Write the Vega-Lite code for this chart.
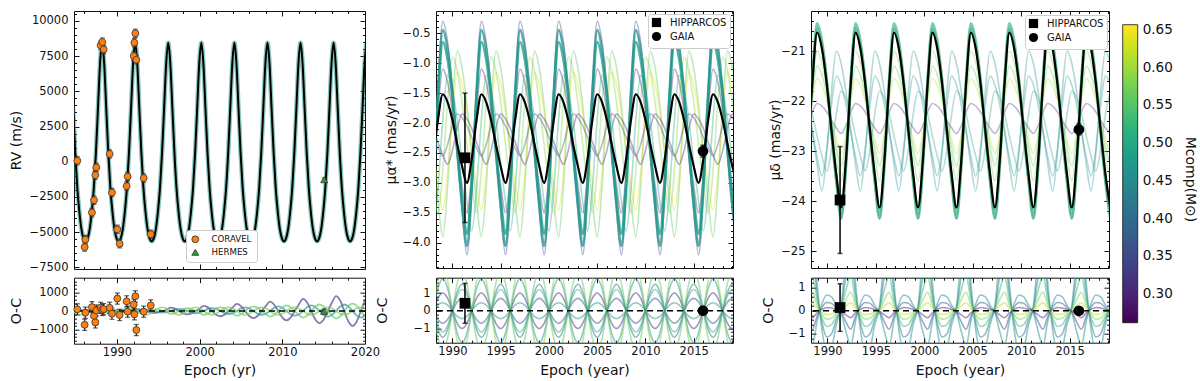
{
"$schema": "https://vega.github.io/schema/vega-lite/v6.json",
"background": "white",
"padding": {"left": 8, "top": 7, "right": 5, "bottom": 2},
"config": {
 "font": "DejaVu Sans",
 "view": {"stroke": "#111", "strokeWidth": 1},
 "axis": {"grid": false, "domain": false, "tickColor": "#111", "tickWidth": 1, "labelColor": "#111", "titleColor": "#111", "labelFontSize": 11.5, "titleFontSize": 14, "titleFontWeight": "normal", "labelFlush": false, "labelOverlap": false, "labelBound": false},
 "legend": {"labelColor": "#111"}
},
"datasets": {
 "zero": [{"z": 0}],
 "rv": [
  {"t":1984.7,"v":3790},{"t":1984.95,"v":632},{"t":1985.2,"v":-1875},{"t":1985.45,"v":-3569},{"t":1985.7,"v":-4783},{"t":1985.95,"v":-5441},{"t":1986.2,"v":-5650},{"t":1986.45,"v":-5441},{"t":1986.7,"v":-4783},{"t":1986.95,"v":-3569},{"t":1987.2,"v":-1875},{"t":1987.45,"v":632},{"t":1987.7,"v":3790},{"t":1987.95,"v":6984},{"t":1988.2,"v":8450},{"t":1988.45,"v":6984},
  {"t":1988.7,"v":3790},{"t":1988.95,"v":632},{"t":1989.2,"v":-1875},{"t":1989.45,"v":-3569},{"t":1989.7,"v":-4783},{"t":1989.95,"v":-5441},{"t":1990.2,"v":-5650},{"t":1990.45,"v":-5441},{"t":1990.7,"v":-4783},{"t":1990.95,"v":-3569},{"t":1991.2,"v":-1875},{"t":1991.45,"v":632},{"t":1991.7,"v":3790},{"t":1991.95,"v":6984},{"t":1992.2,"v":8450},{"t":1992.45,"v":6984},
  {"t":1992.7,"v":3790},{"t":1992.95,"v":632},{"t":1993.2,"v":-1875},{"t":1993.45,"v":-3569},{"t":1993.7,"v":-4783},{"t":1993.95,"v":-5441},{"t":1994.2,"v":-5650},{"t":1994.45,"v":-5441},{"t":1994.7,"v":-4783},{"t":1994.95,"v":-3569},{"t":1995.2,"v":-1875},{"t":1995.45,"v":632},{"t":1995.7,"v":3790},{"t":1995.95,"v":6984},{"t":1996.2,"v":8450},{"t":1996.45,"v":6984},
  {"t":1996.7,"v":3790},{"t":1996.95,"v":632},{"t":1997.2,"v":-1875},{"t":1997.45,"v":-3569},{"t":1997.7,"v":-4783},{"t":1997.95,"v":-5441},{"t":1998.2,"v":-5650},{"t":1998.45,"v":-5441},{"t":1998.7,"v":-4783},{"t":1998.95,"v":-3569},{"t":1999.2,"v":-1875},{"t":1999.45,"v":632},{"t":1999.7,"v":3790},{"t":1999.95,"v":6984},{"t":2000.2,"v":8450},{"t":2000.45,"v":6984},
  {"t":2000.7,"v":3790},{"t":2000.95,"v":632},{"t":2001.2,"v":-1875},{"t":2001.45,"v":-3569},{"t":2001.7,"v":-4783},{"t":2001.95,"v":-5441},{"t":2002.2,"v":-5650},{"t":2002.45,"v":-5441},{"t":2002.7,"v":-4783},{"t":2002.95,"v":-3569},{"t":2003.2,"v":-1875},{"t":2003.45,"v":632},{"t":2003.7,"v":3790},{"t":2003.95,"v":6984},{"t":2004.2,"v":8450},{"t":2004.45,"v":6984},
  {"t":2004.7,"v":3790},{"t":2004.95,"v":632},{"t":2005.2,"v":-1875},{"t":2005.45,"v":-3569},{"t":2005.7,"v":-4783},{"t":2005.95,"v":-5441},{"t":2006.2,"v":-5650},{"t":2006.45,"v":-5441},{"t":2006.7,"v":-4783},{"t":2006.95,"v":-3569},{"t":2007.2,"v":-1875},{"t":2007.45,"v":632},{"t":2007.7,"v":3790},{"t":2007.95,"v":6984},{"t":2008.2,"v":8450},{"t":2008.45,"v":6984},
  {"t":2008.7,"v":3790},{"t":2008.95,"v":632},{"t":2009.2,"v":-1875},{"t":2009.45,"v":-3569},{"t":2009.7,"v":-4783},{"t":2009.95,"v":-5441},{"t":2010.2,"v":-5650},{"t":2010.45,"v":-5441},{"t":2010.7,"v":-4783},{"t":2010.95,"v":-3569},{"t":2011.2,"v":-1875},{"t":2011.45,"v":632},{"t":2011.7,"v":3790},{"t":2011.95,"v":6984},{"t":2012.2,"v":8450},{"t":2012.45,"v":6984},
  {"t":2012.7,"v":3790},{"t":2012.95,"v":632},{"t":2013.2,"v":-1875},{"t":2013.45,"v":-3569},{"t":2013.7,"v":-4783},{"t":2013.95,"v":-5441},{"t":2014.2,"v":-5650},{"t":2014.45,"v":-5441},{"t":2014.7,"v":-4783},{"t":2014.95,"v":-3569},{"t":2015.2,"v":-1875},{"t":2015.45,"v":632},{"t":2015.7,"v":3790},{"t":2015.95,"v":6984},{"t":2016.2,"v":8450},{"t":2016.45,"v":6984},
  {"t":2016.7,"v":3790},{"t":2016.95,"v":632},{"t":2017.2,"v":-1875},{"t":2017.45,"v":-3569},{"t":2017.7,"v":-4783},{"t":2017.95,"v":-5441},{"t":2018.2,"v":-5650},{"t":2018.45,"v":-5441},{"t":2018.7,"v":-4783},{"t":2018.95,"v":-3569},{"t":2019.2,"v":-1875},{"t":2019.45,"v":632},{"t":2019.7,"v":3790},{"t":2019.95,"v":6984},{"t":2020.2,"v":8450},{"t":2020.45,"v":6984}
 ],
 "pts1": [
  {"inst":"CORAVEL","t":1985.2,"v":70,"r":90,"e":300},
  {"inst":"CORAVEL","t":1986.09,"v":-6060,"r":-740,"e":300},
  {"inst":"CORAVEL","t":1986.17,"v":-5530,"r":-90,"e":300},
  {"inst":"CORAVEL","t":1986.97,"v":-3610,"r":210,"e":300},
  {"inst":"CORAVEL","t":1987.22,"v":-2730,"r":-260,"e":300},
  {"inst":"CORAVEL","t":1987.38,"v":-950,"r":-610,"e":300},
  {"inst":"CORAVEL","t":1987.5,"v":-400,"r":30,"e":300},
  {"inst":"CORAVEL","t":1988.02,"v":8270,"r":170,"e":300},
  {"inst":"CORAVEL","t":1988.22,"v":8500,"r":60,"e":300},
  {"inst":"CORAVEL","t":1988.39,"v":7980,"r":100,"e":300},
  {"inst":"CORAVEL","t":1989.11,"v":550,"r":175,"e":300},
  {"inst":"CORAVEL","t":1989.39,"v":-2190,"r":-140,"e":300},
  {"inst":"CORAVEL","t":1990.04,"v":-4800,"r":670,"e":300},
  {"inst":"CORAVEL","t":1990.32,"v":-5820,"r":-210,"e":300},
  {"inst":"CORAVEL","t":1991.17,"v":-1730,"r":520,"e":300},
  {"inst":"CORAVEL","t":1991.29,"v":-1050,"r":-35,"e":300},
  {"inst":"CORAVEL","t":1992.02,"v":7510,"r":350,"e":300},
  {"inst":"CORAVEL","t":1992.1,"v":8460,"r":-175,"e":300},
  {"inst":"CORAVEL","t":1992.22,"v":9120,"r":790,"e":300},
  {"inst":"CORAVEL","t":1992.34,"v":7250,"r":-1020,"e":300},
  {"inst":"CORAVEL","t":1993.23,"v":-1160,"r":-35,"e":300},
  {"inst":"CORAVEL","t":1994.08,"v":-5150,"r":300,"e":300},
  {"inst":"HERMES","t":2015.06,"v":-1280,"r":-20,"e":120}
 ],
 "oc1": [
  {"t":1984.5,"a":30,"b":0,"c":-60,"d":0},{"t":1985,"a":21,"b":35,"c":-42,"d":-140},{"t":1985.5,"a":0,"b":50,"c":0,"d":-200},{"t":1986,"a":-21,"b":35,"c":42,"d":-140},{"t":1986.5,"a":-30,"b":0,"c":60,"d":0},{"t":1987,"a":-21,"b":-35,"c":42,"d":140},{"t":1987.5,"a":0,"b":-50,"c":0,"d":200},{"t":1988,"a":21,"b":-35,"c":-42,"d":140},
  {"t":1988.5,"a":60,"b":0,"c":-80,"d":0},{"t":1989,"a":42,"b":42,"c":-56,"d":-140},{"t":1989.5,"a":0,"b":60,"c":0,"d":-200},{"t":1990,"a":-42,"b":42,"c":56,"d":-140},{"t":1990.5,"a":-60,"b":0,"c":80,"d":0},{"t":1991,"a":-42,"b":-42,"c":56,"d":140},{"t":1991.5,"a":0,"b":-60,"c":0,"d":200},{"t":1992,"a":42,"b":-42,"c":-56,"d":140},
  {"t":1992.5,"a":100,"b":0,"c":-100,"d":0},{"t":1993,"a":70,"b":56,"c":-70,"d":-140},{"t":1993.5,"a":0,"b":80,"c":0,"d":-200},{"t":1994,"a":-70,"b":56,"c":70,"d":-140},{"t":1994.5,"a":-100,"b":0,"c":100,"d":0},{"t":1995,"a":-70,"b":-56,"c":70,"d":140},{"t":1995.5,"a":0,"b":-80,"c":0,"d":200},{"t":1996,"a":70,"b":-56,"c":-70,"d":140},
  {"t":1996.5,"a":180,"b":0,"c":-150,"d":0},{"t":1997,"a":126,"b":84,"c":-105,"d":-140},{"t":1997.5,"a":0,"b":120,"c":0,"d":-200},{"t":1998,"a":-126,"b":84,"c":105,"d":-140},{"t":1998.5,"a":-180,"b":0,"c":150,"d":0},{"t":1999,"a":-126,"b":-84,"c":105,"d":140},{"t":1999.5,"a":0,"b":-120,"c":0,"d":200},{"t":2000,"a":126,"b":-84,"c":-105,"d":140},
  {"t":2000.5,"a":280,"b":0,"c":-200,"d":0},{"t":2001,"a":196,"b":112,"c":-140,"d":-140},{"t":2001.5,"a":0,"b":160,"c":0,"d":-200},{"t":2002,"a":-196,"b":112,"c":140,"d":-140},{"t":2002.5,"a":-280,"b":0,"c":200,"d":0},{"t":2003,"a":-196,"b":-112,"c":140,"d":140},{"t":2003.5,"a":0,"b":-160,"c":0,"d":200},{"t":2004,"a":196,"b":-112,"c":-140,"d":140},
  {"t":2004.5,"a":380,"b":0,"c":-250,"d":0},{"t":2005,"a":266,"b":140,"c":-175,"d":-140},{"t":2005.5,"a":0,"b":200,"c":0,"d":-200},{"t":2006,"a":-266,"b":140,"c":175,"d":-140},{"t":2006.5,"a":-380,"b":0,"c":250,"d":0},{"t":2007,"a":-266,"b":-140,"c":175,"d":140},{"t":2007.5,"a":0,"b":-200,"c":0,"d":200},{"t":2008,"a":266,"b":-140,"c":-175,"d":140},
  {"t":2008.5,"a":500,"b":0,"c":-300,"d":0},{"t":2009,"a":350,"b":175,"c":-210,"d":-140},{"t":2009.5,"a":0,"b":250,"c":0,"d":-200},{"t":2010,"a":-350,"b":175,"c":210,"d":-140},{"t":2010.5,"a":-500,"b":0,"c":300,"d":0},{"t":2011,"a":-350,"b":-175,"c":210,"d":140},{"t":2011.5,"a":0,"b":-250,"c":0,"d":200},{"t":2012,"a":350,"b":-175,"c":-210,"d":140},
  {"t":2012.5,"a":650,"b":0,"c":-350,"d":0},{"t":2013,"a":455,"b":210,"c":-245,"d":-140},{"t":2013.5,"a":0,"b":300,"c":0,"d":-200},{"t":2014,"a":-455,"b":210,"c":245,"d":-140},{"t":2014.5,"a":-650,"b":0,"c":350,"d":0},{"t":2015,"a":-455,"b":-210,"c":245,"d":140},{"t":2015.5,"a":0,"b":-300,"c":0,"d":200},{"t":2016,"a":455,"b":-210,"c":-245,"d":140},
  {"t":2016.5,"a":800,"b":0,"c":-400,"d":0},{"t":2017,"a":560,"b":245,"c":-280,"d":-140},{"t":2017.5,"a":0,"b":350,"c":0,"d":-200},{"t":2018,"a":-560,"b":245,"c":280,"d":-140},{"t":2018.5,"a":-800,"b":0,"c":400,"d":0},{"t":2019,"a":-560,"b":-245,"c":280,"d":140},{"t":2019.5,"a":0,"b":-350,"c":0,"d":200},{"t":2020,"a":560,"b":-245,"c":-280,"d":140},
  {"t":2020.5,"a":900,"b":0,"c":-450,"d":0}
 ],
 "pts2": [
  {"src":"HIPPARCOS","t":1991.3,"v":-2.58,"e":1.08,"r":0.42,"re":1.13},
  {"src":"GAIA","t":2015.96,"v":-2.47,"e":0.1,"r":0,"re":0.04}
 ],
 "pts3": [
  {"src":"HIPPARCOS","t":1991.3,"v":-23.98,"e":1.07,"r":0.14,"re":1.03},
  {"src":"GAIA","t":2015.96,"v":-22.57,"e":0.11,"r":0,"re":0.04}
 ],
 "p2": [
  {"t":1988,"k":-2.6,"a":-3.08,"b":-2.99,"c":-3.15,"d":-2.54,"e":-2.44,"f":-3.01,"g":-2.09,"h":-2.24,"i":-3.8,"j":-2.85,"q1":0,"q2":0,"q3":0,"q4":0,"q5":0,"q6":0,"q7":0,"q8":0},
  {"t":1988.5,"k":-1.95,"a":-1.49,"b":-1.58,"c":-1.43,"d":-3.31,"e":-3.01,"f":-3.5,"g":-2.32,"h":-2.42,"i":-3.1,"j":-1.8,"q1":1.27,"q2":-1.06,"q3":0.71,"q4":-0.49,"q5":1.7,"q6":-1.56,"q7":0.32,"q8":-0.85},
  {"t":1989,"k":-1.52,"a":-0.45,"b":-0.65,"c":-0.3,"d":-3.9,"e":-3.45,"f":-2.8,"g":-2.53,"h":-2.55,"i":-1.95,"j":-1.1,"q1":1.8,"q2":-1.5,"q3":1,"q4":-0.7,"q5":2.4,"q6":-2.2,"q7":0.45,"q8":-1.2},
  {"t":1989.5,"k":-1.65,"a":-0.77,"b":-0.94,"c":-0.65,"d":-3.06,"e":-2.83,"f":-1.65,"g":-2.69,"h":-2.36,"i":-1.2,"j":-1.32,"q1":1.27,"q2":-1.06,"q3":0.71,"q4":-0.49,"q5":1.7,"q6":-1.56,"q7":0.32,"q8":-0.85},
  {"t":1990,"k":-1.95,"a":-1.49,"b":-1.58,"c":-1.43,"d":-1.7,"e":-1.82,"f":-0.9,"g":-2.46,"h":-2.05,"i":-1.43,"j":-1.8,"q1":0,"q2":0,"q3":0,"q4":0,"q5":0,"q6":0,"q7":0,"q8":0},
  {"t":1990.5,"k":-2.35,"a":-2.47,"b":-2.44,"c":-2.48,"d":-0.8,"e":-1.15,"f":-1.13,"g":-2.09,"h":-1.85,"i":-1.95,"j":-2.44,"q1":-1.27,"q2":1.06,"q3":-0.71,"q4":0.49,"q5":-1.7,"q6":1.56,"q7":-0.32,"q8":0.85},
  {"t":1991,"k":-2.72,"a":-3.37,"b":-3.24,"c":-3.46,"d":-1.08,"e":-1.36,"f":-1.65,"g":-1.85,"h":-1.91,"i":-2.66,"j":-3.04,"q1":-1.8,"q2":1.5,"q3":-1,"q4":0.7,"q5":-2.4,"q6":2.2,"q7":-0.45,"q8":1.2},
  {"t":1991.5,"k":-3,"a":-4.05,"b":-3.85,"c":-4.2,"d":-1.7,"e":-1.82,"f":-2.36,"g":-1.93,"h":-2.05,"i":-3.31,"j":-3.5,"q1":-1.27,"q2":1.06,"q3":-0.71,"q4":0.49,"q5":-1.7,"q6":1.56,"q7":-0.32,"q8":0.85},
  {"t":1992,"k":-2.6,"a":-3.08,"b":-2.99,"c":-3.15,"d":-2.54,"e":-2.44,"f":-3.01,"g":-2.09,"h":-2.24,"i":-3.8,"j":-2.85,"q1":0,"q2":0,"q3":0,"q4":0,"q5":0,"q6":0,"q7":0,"q8":0},
  {"t":1992.5,"k":-1.95,"a":-1.49,"b":-1.58,"c":-1.43,"d":-3.31,"e":-3.01,"f":-3.5,"g":-2.32,"h":-2.42,"i":-3.1,"j":-1.8,"q1":1.27,"q2":-1.06,"q3":0.71,"q4":-0.49,"q5":1.7,"q6":-1.56,"q7":0.32,"q8":-0.85},
  {"t":1993,"k":-1.52,"a":-0.45,"b":-0.65,"c":-0.3,"d":-3.9,"e":-3.45,"f":-2.8,"g":-2.53,"h":-2.55,"i":-1.95,"j":-1.1,"q1":1.8,"q2":-1.5,"q3":1,"q4":-0.7,"q5":2.4,"q6":-2.2,"q7":0.45,"q8":-1.2},
  {"t":1993.5,"k":-1.65,"a":-0.77,"b":-0.94,"c":-0.65,"d":-3.06,"e":-2.83,"f":-1.65,"g":-2.69,"h":-2.36,"i":-1.2,"j":-1.32,"q1":1.27,"q2":-1.06,"q3":0.71,"q4":-0.49,"q5":1.7,"q6":-1.56,"q7":0.32,"q8":-0.85},
  {"t":1994,"k":-1.95,"a":-1.49,"b":-1.58,"c":-1.43,"d":-1.7,"e":-1.82,"f":-0.9,"g":-2.46,"h":-2.05,"i":-1.43,"j":-1.8,"q1":0,"q2":0,"q3":0,"q4":0,"q5":0,"q6":0,"q7":0,"q8":0},
  {"t":1994.5,"k":-2.35,"a":-2.47,"b":-2.44,"c":-2.48,"d":-0.8,"e":-1.15,"f":-1.13,"g":-2.09,"h":-1.85,"i":-1.95,"j":-2.44,"q1":-1.27,"q2":1.06,"q3":-0.71,"q4":0.49,"q5":-1.7,"q6":1.56,"q7":-0.32,"q8":0.85},
  {"t":1995,"k":-2.72,"a":-3.37,"b":-3.24,"c":-3.46,"d":-1.08,"e":-1.36,"f":-1.65,"g":-1.85,"h":-1.91,"i":-2.66,"j":-3.04,"q1":-1.8,"q2":1.5,"q3":-1,"q4":0.7,"q5":-2.4,"q6":2.2,"q7":-0.45,"q8":1.2},
  {"t":1995.5,"k":-3,"a":-4.05,"b":-3.85,"c":-4.2,"d":-1.7,"e":-1.82,"f":-2.36,"g":-1.93,"h":-2.05,"i":-3.31,"j":-3.5,"q1":-1.27,"q2":1.06,"q3":-0.71,"q4":0.49,"q5":-1.7,"q6":1.56,"q7":-0.32,"q8":0.85},
  {"t":1996,"k":-2.6,"a":-3.08,"b":-2.99,"c":-3.15,"d":-2.54,"e":-2.44,"f":-3.01,"g":-2.09,"h":-2.24,"i":-3.8,"j":-2.85,"q1":0,"q2":0,"q3":0,"q4":0,"q5":0,"q6":0,"q7":0,"q8":0},
  {"t":1996.5,"k":-1.95,"a":-1.49,"b":-1.58,"c":-1.43,"d":-3.31,"e":-3.01,"f":-3.5,"g":-2.32,"h":-2.42,"i":-3.1,"j":-1.8,"q1":1.27,"q2":-1.06,"q3":0.71,"q4":-0.49,"q5":1.7,"q6":-1.56,"q7":0.32,"q8":-0.85},
  {"t":1997,"k":-1.52,"a":-0.45,"b":-0.65,"c":-0.3,"d":-3.9,"e":-3.45,"f":-2.8,"g":-2.53,"h":-2.55,"i":-1.95,"j":-1.1,"q1":1.8,"q2":-1.5,"q3":1,"q4":-0.7,"q5":2.4,"q6":-2.2,"q7":0.45,"q8":-1.2},
  {"t":1997.5,"k":-1.65,"a":-0.77,"b":-0.94,"c":-0.65,"d":-3.06,"e":-2.83,"f":-1.65,"g":-2.69,"h":-2.36,"i":-1.2,"j":-1.32,"q1":1.27,"q2":-1.06,"q3":0.71,"q4":-0.49,"q5":1.7,"q6":-1.56,"q7":0.32,"q8":-0.85},
  {"t":1998,"k":-1.95,"a":-1.49,"b":-1.58,"c":-1.43,"d":-1.7,"e":-1.82,"f":-0.9,"g":-2.46,"h":-2.05,"i":-1.43,"j":-1.8,"q1":0,"q2":0,"q3":0,"q4":0,"q5":0,"q6":0,"q7":0,"q8":0},
  {"t":1998.5,"k":-2.35,"a":-2.47,"b":-2.44,"c":-2.48,"d":-0.8,"e":-1.15,"f":-1.13,"g":-2.09,"h":-1.85,"i":-1.95,"j":-2.44,"q1":-1.27,"q2":1.06,"q3":-0.71,"q4":0.49,"q5":-1.7,"q6":1.56,"q7":-0.32,"q8":0.85},
  {"t":1999,"k":-2.72,"a":-3.37,"b":-3.24,"c":-3.46,"d":-1.08,"e":-1.36,"f":-1.65,"g":-1.85,"h":-1.91,"i":-2.66,"j":-3.04,"q1":-1.8,"q2":1.5,"q3":-1,"q4":0.7,"q5":-2.4,"q6":2.2,"q7":-0.45,"q8":1.2},
  {"t":1999.5,"k":-3,"a":-4.05,"b":-3.85,"c":-4.2,"d":-1.7,"e":-1.82,"f":-2.36,"g":-1.93,"h":-2.05,"i":-3.31,"j":-3.5,"q1":-1.27,"q2":1.06,"q3":-0.71,"q4":0.49,"q5":-1.7,"q6":1.56,"q7":-0.32,"q8":0.85},
  {"t":2000,"k":-2.6,"a":-3.08,"b":-2.99,"c":-3.15,"d":-2.54,"e":-2.44,"f":-3.01,"g":-2.09,"h":-2.24,"i":-3.8,"j":-2.85,"q1":0,"q2":0,"q3":0,"q4":0,"q5":0,"q6":0,"q7":0,"q8":0},
  {"t":2000.5,"k":-1.95,"a":-1.49,"b":-1.58,"c":-1.43,"d":-3.31,"e":-3.01,"f":-3.5,"g":-2.32,"h":-2.42,"i":-3.1,"j":-1.8,"q1":1.27,"q2":-1.06,"q3":0.71,"q4":-0.49,"q5":1.7,"q6":-1.56,"q7":0.32,"q8":-0.85},
  {"t":2001,"k":-1.52,"a":-0.45,"b":-0.65,"c":-0.3,"d":-3.9,"e":-3.45,"f":-2.8,"g":-2.53,"h":-2.55,"i":-1.95,"j":-1.1,"q1":1.8,"q2":-1.5,"q3":1,"q4":-0.7,"q5":2.4,"q6":-2.2,"q7":0.45,"q8":-1.2},
  {"t":2001.5,"k":-1.65,"a":-0.77,"b":-0.94,"c":-0.65,"d":-3.06,"e":-2.83,"f":-1.65,"g":-2.69,"h":-2.36,"i":-1.2,"j":-1.32,"q1":1.27,"q2":-1.06,"q3":0.71,"q4":-0.49,"q5":1.7,"q6":-1.56,"q7":0.32,"q8":-0.85},
  {"t":2002,"k":-1.95,"a":-1.49,"b":-1.58,"c":-1.43,"d":-1.7,"e":-1.82,"f":-0.9,"g":-2.46,"h":-2.05,"i":-1.43,"j":-1.8,"q1":0,"q2":0,"q3":0,"q4":0,"q5":0,"q6":0,"q7":0,"q8":0},
  {"t":2002.5,"k":-2.35,"a":-2.47,"b":-2.44,"c":-2.48,"d":-0.8,"e":-1.15,"f":-1.13,"g":-2.09,"h":-1.85,"i":-1.95,"j":-2.44,"q1":-1.27,"q2":1.06,"q3":-0.71,"q4":0.49,"q5":-1.7,"q6":1.56,"q7":-0.32,"q8":0.85},
  {"t":2003,"k":-2.72,"a":-3.37,"b":-3.24,"c":-3.46,"d":-1.08,"e":-1.36,"f":-1.65,"g":-1.85,"h":-1.91,"i":-2.66,"j":-3.04,"q1":-1.8,"q2":1.5,"q3":-1,"q4":0.7,"q5":-2.4,"q6":2.2,"q7":-0.45,"q8":1.2},
  {"t":2003.5,"k":-3,"a":-4.05,"b":-3.85,"c":-4.2,"d":-1.7,"e":-1.82,"f":-2.36,"g":-1.93,"h":-2.05,"i":-3.31,"j":-3.5,"q1":-1.27,"q2":1.06,"q3":-0.71,"q4":0.49,"q5":-1.7,"q6":1.56,"q7":-0.32,"q8":0.85},
  {"t":2004,"k":-2.6,"a":-3.08,"b":-2.99,"c":-3.15,"d":-2.54,"e":-2.44,"f":-3.01,"g":-2.09,"h":-2.24,"i":-3.8,"j":-2.85,"q1":0,"q2":0,"q3":0,"q4":0,"q5":0,"q6":0,"q7":0,"q8":0},
  {"t":2004.5,"k":-1.95,"a":-1.49,"b":-1.58,"c":-1.43,"d":-3.31,"e":-3.01,"f":-3.5,"g":-2.32,"h":-2.42,"i":-3.1,"j":-1.8,"q1":1.27,"q2":-1.06,"q3":0.71,"q4":-0.49,"q5":1.7,"q6":-1.56,"q7":0.32,"q8":-0.85},
  {"t":2005,"k":-1.52,"a":-0.45,"b":-0.65,"c":-0.3,"d":-3.9,"e":-3.45,"f":-2.8,"g":-2.53,"h":-2.55,"i":-1.95,"j":-1.1,"q1":1.8,"q2":-1.5,"q3":1,"q4":-0.7,"q5":2.4,"q6":-2.2,"q7":0.45,"q8":-1.2},
  {"t":2005.5,"k":-1.65,"a":-0.77,"b":-0.94,"c":-0.65,"d":-3.06,"e":-2.83,"f":-1.65,"g":-2.69,"h":-2.36,"i":-1.2,"j":-1.32,"q1":1.27,"q2":-1.06,"q3":0.71,"q4":-0.49,"q5":1.7,"q6":-1.56,"q7":0.32,"q8":-0.85},
  {"t":2006,"k":-1.95,"a":-1.49,"b":-1.58,"c":-1.43,"d":-1.7,"e":-1.82,"f":-0.9,"g":-2.46,"h":-2.05,"i":-1.43,"j":-1.8,"q1":0,"q2":0,"q3":0,"q4":0,"q5":0,"q6":0,"q7":0,"q8":0},
  {"t":2006.5,"k":-2.35,"a":-2.47,"b":-2.44,"c":-2.48,"d":-0.8,"e":-1.15,"f":-1.13,"g":-2.09,"h":-1.85,"i":-1.95,"j":-2.44,"q1":-1.27,"q2":1.06,"q3":-0.71,"q4":0.49,"q5":-1.7,"q6":1.56,"q7":-0.32,"q8":0.85},
  {"t":2007,"k":-2.72,"a":-3.37,"b":-3.24,"c":-3.46,"d":-1.08,"e":-1.36,"f":-1.65,"g":-1.85,"h":-1.91,"i":-2.66,"j":-3.04,"q1":-1.8,"q2":1.5,"q3":-1,"q4":0.7,"q5":-2.4,"q6":2.2,"q7":-0.45,"q8":1.2},
  {"t":2007.5,"k":-3,"a":-4.05,"b":-3.85,"c":-4.2,"d":-1.7,"e":-1.82,"f":-2.36,"g":-1.93,"h":-2.05,"i":-3.31,"j":-3.5,"q1":-1.27,"q2":1.06,"q3":-0.71,"q4":0.49,"q5":-1.7,"q6":1.56,"q7":-0.32,"q8":0.85},
  {"t":2008,"k":-2.6,"a":-3.08,"b":-2.99,"c":-3.15,"d":-2.54,"e":-2.44,"f":-3.01,"g":-2.09,"h":-2.24,"i":-3.8,"j":-2.85,"q1":0,"q2":0,"q3":0,"q4":0,"q5":0,"q6":0,"q7":0,"q8":0},
  {"t":2008.5,"k":-1.95,"a":-1.49,"b":-1.58,"c":-1.43,"d":-3.31,"e":-3.01,"f":-3.5,"g":-2.32,"h":-2.42,"i":-3.1,"j":-1.8,"q1":1.27,"q2":-1.06,"q3":0.71,"q4":-0.49,"q5":1.7,"q6":-1.56,"q7":0.32,"q8":-0.85},
  {"t":2009,"k":-1.52,"a":-0.45,"b":-0.65,"c":-0.3,"d":-3.9,"e":-3.45,"f":-2.8,"g":-2.53,"h":-2.55,"i":-1.95,"j":-1.1,"q1":1.8,"q2":-1.5,"q3":1,"q4":-0.7,"q5":2.4,"q6":-2.2,"q7":0.45,"q8":-1.2},
  {"t":2009.5,"k":-1.65,"a":-0.77,"b":-0.94,"c":-0.65,"d":-3.06,"e":-2.83,"f":-1.65,"g":-2.69,"h":-2.36,"i":-1.2,"j":-1.32,"q1":1.27,"q2":-1.06,"q3":0.71,"q4":-0.49,"q5":1.7,"q6":-1.56,"q7":0.32,"q8":-0.85},
  {"t":2010,"k":-1.95,"a":-1.49,"b":-1.58,"c":-1.43,"d":-1.7,"e":-1.82,"f":-0.9,"g":-2.46,"h":-2.05,"i":-1.43,"j":-1.8,"q1":0,"q2":0,"q3":0,"q4":0,"q5":0,"q6":0,"q7":0,"q8":0},
  {"t":2010.5,"k":-2.35,"a":-2.47,"b":-2.44,"c":-2.48,"d":-0.8,"e":-1.15,"f":-1.13,"g":-2.09,"h":-1.85,"i":-1.95,"j":-2.44,"q1":-1.27,"q2":1.06,"q3":-0.71,"q4":0.49,"q5":-1.7,"q6":1.56,"q7":-0.32,"q8":0.85},
  {"t":2011,"k":-2.72,"a":-3.37,"b":-3.24,"c":-3.46,"d":-1.08,"e":-1.36,"f":-1.65,"g":-1.85,"h":-1.91,"i":-2.66,"j":-3.04,"q1":-1.8,"q2":1.5,"q3":-1,"q4":0.7,"q5":-2.4,"q6":2.2,"q7":-0.45,"q8":1.2},
  {"t":2011.5,"k":-3,"a":-4.05,"b":-3.85,"c":-4.2,"d":-1.7,"e":-1.82,"f":-2.36,"g":-1.93,"h":-2.05,"i":-3.31,"j":-3.5,"q1":-1.27,"q2":1.06,"q3":-0.71,"q4":0.49,"q5":-1.7,"q6":1.56,"q7":-0.32,"q8":0.85},
  {"t":2012,"k":-2.6,"a":-3.08,"b":-2.99,"c":-3.15,"d":-2.54,"e":-2.44,"f":-3.01,"g":-2.09,"h":-2.24,"i":-3.8,"j":-2.85,"q1":0,"q2":0,"q3":0,"q4":0,"q5":0,"q6":0,"q7":0,"q8":0},
  {"t":2012.5,"k":-1.95,"a":-1.49,"b":-1.58,"c":-1.43,"d":-3.31,"e":-3.01,"f":-3.5,"g":-2.32,"h":-2.42,"i":-3.1,"j":-1.8,"q1":1.27,"q2":-1.06,"q3":0.71,"q4":-0.49,"q5":1.7,"q6":-1.56,"q7":0.32,"q8":-0.85},
  {"t":2013,"k":-1.52,"a":-0.45,"b":-0.65,"c":-0.3,"d":-3.9,"e":-3.45,"f":-2.8,"g":-2.53,"h":-2.55,"i":-1.95,"j":-1.1,"q1":1.8,"q2":-1.5,"q3":1,"q4":-0.7,"q5":2.4,"q6":-2.2,"q7":0.45,"q8":-1.2},
  {"t":2013.5,"k":-1.65,"a":-0.77,"b":-0.94,"c":-0.65,"d":-3.06,"e":-2.83,"f":-1.65,"g":-2.69,"h":-2.36,"i":-1.2,"j":-1.32,"q1":1.27,"q2":-1.06,"q3":0.71,"q4":-0.49,"q5":1.7,"q6":-1.56,"q7":0.32,"q8":-0.85},
  {"t":2014,"k":-1.95,"a":-1.49,"b":-1.58,"c":-1.43,"d":-1.7,"e":-1.82,"f":-0.9,"g":-2.46,"h":-2.05,"i":-1.43,"j":-1.8,"q1":0,"q2":0,"q3":0,"q4":0,"q5":0,"q6":0,"q7":0,"q8":0},
  {"t":2014.5,"k":-2.35,"a":-2.47,"b":-2.44,"c":-2.48,"d":-0.8,"e":-1.15,"f":-1.13,"g":-2.09,"h":-1.85,"i":-1.95,"j":-2.44,"q1":-1.27,"q2":1.06,"q3":-0.71,"q4":0.49,"q5":-1.7,"q6":1.56,"q7":-0.32,"q8":0.85},
  {"t":2015,"k":-2.72,"a":-3.37,"b":-3.24,"c":-3.46,"d":-1.08,"e":-1.36,"f":-1.65,"g":-1.85,"h":-1.91,"i":-2.66,"j":-3.04,"q1":-1.8,"q2":1.5,"q3":-1,"q4":0.7,"q5":-2.4,"q6":2.2,"q7":-0.45,"q8":1.2},
  {"t":2015.5,"k":-3,"a":-4.05,"b":-3.85,"c":-4.2,"d":-1.7,"e":-1.82,"f":-2.36,"g":-1.93,"h":-2.05,"i":-3.31,"j":-3.5,"q1":-1.27,"q2":1.06,"q3":-0.71,"q4":0.49,"q5":-1.7,"q6":1.56,"q7":-0.32,"q8":0.85},
  {"t":2016,"k":-2.6,"a":-3.08,"b":-2.99,"c":-3.15,"d":-2.54,"e":-2.44,"f":-3.01,"g":-2.09,"h":-2.24,"i":-3.8,"j":-2.85,"q1":0,"q2":0,"q3":0,"q4":0,"q5":0,"q6":0,"q7":0,"q8":0},
  {"t":2016.5,"k":-1.95,"a":-1.49,"b":-1.58,"c":-1.43,"d":-3.31,"e":-3.01,"f":-3.5,"g":-2.32,"h":-2.42,"i":-3.1,"j":-1.8,"q1":1.27,"q2":-1.06,"q3":0.71,"q4":-0.49,"q5":1.7,"q6":-1.56,"q7":0.32,"q8":-0.85},
  {"t":2017,"k":-1.52,"a":-0.45,"b":-0.65,"c":-0.3,"d":-3.9,"e":-3.45,"f":-2.8,"g":-2.53,"h":-2.55,"i":-1.95,"j":-1.1,"q1":1.8,"q2":-1.5,"q3":1,"q4":-0.7,"q5":2.4,"q6":-2.2,"q7":0.45,"q8":-1.2},
  {"t":2017.5,"k":-1.65,"a":-0.77,"b":-0.94,"c":-0.65,"d":-3.06,"e":-2.83,"f":-1.65,"g":-2.69,"h":-2.36,"i":-1.2,"j":-1.32,"q1":1.27,"q2":-1.06,"q3":0.71,"q4":-0.49,"q5":1.7,"q6":-1.56,"q7":0.32,"q8":-0.85},
  {"t":2018,"k":-1.95,"a":-1.49,"b":-1.58,"c":-1.43,"d":-1.7,"e":-1.82,"f":-0.9,"g":-2.46,"h":-2.05,"i":-1.43,"j":-1.8,"q1":0,"q2":0,"q3":0,"q4":0,"q5":0,"q6":0,"q7":0,"q8":0},
  {"t":2018.5,"k":-2.35,"a":-2.47,"b":-2.44,"c":-2.48,"d":-0.8,"e":-1.15,"f":-1.13,"g":-2.09,"h":-1.85,"i":-1.95,"j":-2.44,"q1":-1.27,"q2":1.06,"q3":-0.71,"q4":0.49,"q5":-1.7,"q6":1.56,"q7":-0.32,"q8":0.85},
  {"t":2019,"k":-2.72,"a":-3.37,"b":-3.24,"c":-3.46,"d":-1.08,"e":-1.36,"f":-1.65,"g":-1.85,"h":-1.91,"i":-2.66,"j":-3.04,"q1":-1.8,"q2":1.5,"q3":-1,"q4":0.7,"q5":-2.4,"q6":2.2,"q7":-0.45,"q8":1.2},
  {"t":2019.5,"k":-3,"a":-4.05,"b":-3.85,"c":-4.2,"d":-1.7,"e":-1.82,"f":-2.36,"g":-1.93,"h":-2.05,"i":-3.31,"j":-3.5,"q1":-1.27,"q2":1.06,"q3":-0.71,"q4":0.49,"q5":-1.7,"q6":1.56,"q7":-0.32,"q8":0.85}
 ],
 "p3": [
  {"t":1987.938,"k":-23.19,"a":-23.3,"b":-23.25,"c":-23.32,"d":-22.9,"e":-22.76,"f":-22.65,"g":-22.49,"h":-21.81,"i":-22.08,"j":-21.94,"q1":2.4,"q2":1.5,"q3":0.9,"q4":0.48,"q5":-0.9,"q6":-0.48,"q7":0.21,"q8":-0.18},
  {"t":1988.434,"k":-21.65,"a":-21.58,"b":-21.62,"c":-21.65,"d":-21.75,"e":-21.88,"f":-21.99,"g":-22.22,"h":-22.57,"i":-22.62,"j":-22.26,"q1":4,"q2":2.5,"q3":1.5,"q4":0.8,"q5":-1.5,"q6":-0.8,"q7":0.35,"q8":-0.3},
  {"t":1988.93,"k":-20.63,"a":-20.45,"b":-20.55,"c":-20.55,"d":-21,"e":-21.3,"f":-21.55,"g":-22.05,"h":-23.27,"i":-23.12,"j":-22.7,"q1":1.2,"q2":0.75,"q3":0.45,"q4":0.24,"q5":-0.45,"q6":-0.24,"q7":0.11,"q8":-0.09},
  {"t":1989.426,"k":-20.95,"a":-20.8,"b":-20.88,"c":-20.89,"d":-21.23,"e":-21.48,"f":-21.69,"g":-22.1,"h":-23.8,"i":-23.5,"j":-23.1,"q1":-0.8,"q2":-0.5,"q3":-0.3,"q4":-0.16,"q5":0.3,"q6":0.16,"q7":-0.07,"q8":0.06},
  {"t":1989.923,"k":-21.65,"a":-21.58,"b":-21.62,"c":-21.65,"d":-21.75,"e":-21.88,"f":-21.99,"g":-22.22,"h":-23.04,"i":-22.96,"j":-23.4,"q1":-1.8,"q2":-1.13,"q3":-0.68,"q4":-0.36,"q5":0.68,"q6":0.36,"q7":-0.16,"q8":0.14},
  {"t":1990.419,"k":-22.59,"a":-22.63,"b":-22.62,"c":-22.68,"d":-22.46,"e":-22.42,"f":-22.39,"g":-22.39,"h":-21.81,"i":-22.08,"j":-22.97,"q1":-1.6,"q2":-1,"q3":-0.6,"q4":-0.32,"q5":0.6,"q6":0.32,"q7":-0.14,"q8":0.12},
  {"t":1990.915,"k":-23.47,"a":-23.61,"b":-23.55,"c":-23.63,"d":-23.11,"e":-22.92,"f":-22.77,"g":-22.54,"h":-21,"i":-21.5,"j":-22.26,"q1":-0.6,"q2":-0.38,"q3":-0.23,"q4":-0.12,"q5":0.23,"q6":0.12,"q7":-0.05,"q8":0.05},
  {"t":1991.411,"k":-24.13,"a":-24.35,"b":-24.25,"c":-24.35,"d":-23.6,"e":-23.3,"f":-23.05,"g":-22.65,"h":-21.25,"i":-21.68,"j":-21.8,"q1":0.2,"q2":0.13,"q3":0.08,"q4":0.04,"q5":-0.08,"q6":-0.04,"q7":0.02,"q8":-0.02},
  {"t":1991.908,"k":-23.19,"a":-23.3,"b":-23.25,"c":-23.32,"d":-22.9,"e":-22.76,"f":-22.65,"g":-22.49,"h":-21.81,"i":-22.08,"j":-21.94,"q1":2.4,"q2":1.5,"q3":0.9,"q4":0.48,"q5":-0.9,"q6":-0.48,"q7":0.21,"q8":-0.18},
  {"t":1992.404,"k":-21.65,"a":-21.58,"b":-21.62,"c":-21.65,"d":-21.75,"e":-21.88,"f":-21.99,"g":-22.22,"h":-22.57,"i":-22.62,"j":-22.26,"q1":4,"q2":2.5,"q3":1.5,"q4":0.8,"q5":-1.5,"q6":-0.8,"q7":0.35,"q8":-0.3},
  {"t":1992.9,"k":-20.63,"a":-20.45,"b":-20.55,"c":-20.55,"d":-21,"e":-21.3,"f":-21.55,"g":-22.05,"h":-23.27,"i":-23.12,"j":-22.7,"q1":1.2,"q2":0.75,"q3":0.45,"q4":0.24,"q5":-0.45,"q6":-0.24,"q7":0.11,"q8":-0.09},
  {"t":1993.396,"k":-20.95,"a":-20.8,"b":-20.88,"c":-20.89,"d":-21.23,"e":-21.48,"f":-21.69,"g":-22.1,"h":-23.8,"i":-23.5,"j":-23.1,"q1":-0.8,"q2":-0.5,"q3":-0.3,"q4":-0.16,"q5":0.3,"q6":0.16,"q7":-0.07,"q8":0.06},
  {"t":1993.893,"k":-21.65,"a":-21.58,"b":-21.62,"c":-21.65,"d":-21.75,"e":-21.88,"f":-21.99,"g":-22.22,"h":-23.04,"i":-22.96,"j":-23.4,"q1":-1.8,"q2":-1.13,"q3":-0.68,"q4":-0.36,"q5":0.68,"q6":0.36,"q7":-0.16,"q8":0.14},
  {"t":1994.389,"k":-22.59,"a":-22.63,"b":-22.62,"c":-22.68,"d":-22.46,"e":-22.42,"f":-22.39,"g":-22.39,"h":-21.81,"i":-22.08,"j":-22.97,"q1":-1.6,"q2":-1,"q3":-0.6,"q4":-0.32,"q5":0.6,"q6":0.32,"q7":-0.14,"q8":0.12},
  {"t":1994.885,"k":-23.47,"a":-23.61,"b":-23.55,"c":-23.63,"d":-23.11,"e":-22.92,"f":-22.77,"g":-22.54,"h":-21,"i":-21.5,"j":-22.26,"q1":-0.6,"q2":-0.38,"q3":-0.23,"q4":-0.12,"q5":0.23,"q6":0.12,"q7":-0.05,"q8":0.05},
  {"t":1995.381,"k":-24.13,"a":-24.35,"b":-24.25,"c":-24.35,"d":-23.6,"e":-23.3,"f":-23.05,"g":-22.65,"h":-21.25,"i":-21.68,"j":-21.8,"q1":0.2,"q2":0.13,"q3":0.08,"q4":0.04,"q5":-0.08,"q6":-0.04,"q7":0.02,"q8":-0.02},
  {"t":1995.878,"k":-23.19,"a":-23.3,"b":-23.25,"c":-23.32,"d":-22.9,"e":-22.76,"f":-22.65,"g":-22.49,"h":-21.81,"i":-22.08,"j":-21.94,"q1":2.4,"q2":1.5,"q3":0.9,"q4":0.48,"q5":-0.9,"q6":-0.48,"q7":0.21,"q8":-0.18},
  {"t":1996.374,"k":-21.65,"a":-21.58,"b":-21.62,"c":-21.65,"d":-21.75,"e":-21.88,"f":-21.99,"g":-22.22,"h":-22.57,"i":-22.62,"j":-22.26,"q1":4,"q2":2.5,"q3":1.5,"q4":0.8,"q5":-1.5,"q6":-0.8,"q7":0.35,"q8":-0.3},
  {"t":1996.87,"k":-20.63,"a":-20.45,"b":-20.55,"c":-20.55,"d":-21,"e":-21.3,"f":-21.55,"g":-22.05,"h":-23.27,"i":-23.12,"j":-22.7,"q1":1.2,"q2":0.75,"q3":0.45,"q4":0.24,"q5":-0.45,"q6":-0.24,"q7":0.11,"q8":-0.09},
  {"t":1997.366,"k":-20.95,"a":-20.8,"b":-20.88,"c":-20.89,"d":-21.23,"e":-21.48,"f":-21.69,"g":-22.1,"h":-23.8,"i":-23.5,"j":-23.1,"q1":-0.8,"q2":-0.5,"q3":-0.3,"q4":-0.16,"q5":0.3,"q6":0.16,"q7":-0.07,"q8":0.06},
  {"t":1997.863,"k":-21.65,"a":-21.58,"b":-21.62,"c":-21.65,"d":-21.75,"e":-21.88,"f":-21.99,"g":-22.22,"h":-23.04,"i":-22.96,"j":-23.4,"q1":-1.8,"q2":-1.13,"q3":-0.68,"q4":-0.36,"q5":0.68,"q6":0.36,"q7":-0.16,"q8":0.14},
  {"t":1998.359,"k":-22.59,"a":-22.63,"b":-22.62,"c":-22.68,"d":-22.46,"e":-22.42,"f":-22.39,"g":-22.39,"h":-21.81,"i":-22.08,"j":-22.97,"q1":-1.6,"q2":-1,"q3":-0.6,"q4":-0.32,"q5":0.6,"q6":0.32,"q7":-0.14,"q8":0.12},
  {"t":1998.855,"k":-23.47,"a":-23.61,"b":-23.55,"c":-23.63,"d":-23.11,"e":-22.92,"f":-22.77,"g":-22.54,"h":-21,"i":-21.5,"j":-22.26,"q1":-0.6,"q2":-0.38,"q3":-0.23,"q4":-0.12,"q5":0.23,"q6":0.12,"q7":-0.05,"q8":0.05},
  {"t":1999.351,"k":-24.13,"a":-24.35,"b":-24.25,"c":-24.35,"d":-23.6,"e":-23.3,"f":-23.05,"g":-22.65,"h":-21.25,"i":-21.68,"j":-21.8,"q1":0.2,"q2":0.13,"q3":0.08,"q4":0.04,"q5":-0.08,"q6":-0.04,"q7":0.02,"q8":-0.02},
  {"t":1999.848,"k":-23.19,"a":-23.3,"b":-23.25,"c":-23.32,"d":-22.9,"e":-22.76,"f":-22.65,"g":-22.49,"h":-21.81,"i":-22.08,"j":-21.94,"q1":2.4,"q2":1.5,"q3":0.9,"q4":0.48,"q5":-0.9,"q6":-0.48,"q7":0.21,"q8":-0.18},
  {"t":2000.344,"k":-21.65,"a":-21.58,"b":-21.62,"c":-21.65,"d":-21.75,"e":-21.88,"f":-21.99,"g":-22.22,"h":-22.57,"i":-22.62,"j":-22.26,"q1":4,"q2":2.5,"q3":1.5,"q4":0.8,"q5":-1.5,"q6":-0.8,"q7":0.35,"q8":-0.3},
  {"t":2000.84,"k":-20.63,"a":-20.45,"b":-20.55,"c":-20.55,"d":-21,"e":-21.3,"f":-21.55,"g":-22.05,"h":-23.27,"i":-23.12,"j":-22.7,"q1":1.2,"q2":0.75,"q3":0.45,"q4":0.24,"q5":-0.45,"q6":-0.24,"q7":0.11,"q8":-0.09},
  {"t":2001.336,"k":-20.95,"a":-20.8,"b":-20.88,"c":-20.89,"d":-21.23,"e":-21.48,"f":-21.69,"g":-22.1,"h":-23.8,"i":-23.5,"j":-23.1,"q1":-0.8,"q2":-0.5,"q3":-0.3,"q4":-0.16,"q5":0.3,"q6":0.16,"q7":-0.07,"q8":0.06},
  {"t":2001.833,"k":-21.65,"a":-21.58,"b":-21.62,"c":-21.65,"d":-21.75,"e":-21.88,"f":-21.99,"g":-22.22,"h":-23.04,"i":-22.96,"j":-23.4,"q1":-1.8,"q2":-1.13,"q3":-0.68,"q4":-0.36,"q5":0.68,"q6":0.36,"q7":-0.16,"q8":0.14},
  {"t":2002.329,"k":-22.59,"a":-22.63,"b":-22.62,"c":-22.68,"d":-22.46,"e":-22.42,"f":-22.39,"g":-22.39,"h":-21.81,"i":-22.08,"j":-22.97,"q1":-1.6,"q2":-1,"q3":-0.6,"q4":-0.32,"q5":0.6,"q6":0.32,"q7":-0.14,"q8":0.12},
  {"t":2002.825,"k":-23.47,"a":-23.61,"b":-23.55,"c":-23.63,"d":-23.11,"e":-22.92,"f":-22.77,"g":-22.54,"h":-21,"i":-21.5,"j":-22.26,"q1":-0.6,"q2":-0.38,"q3":-0.23,"q4":-0.12,"q5":0.23,"q6":0.12,"q7":-0.05,"q8":0.05},
  {"t":2003.321,"k":-24.13,"a":-24.35,"b":-24.25,"c":-24.35,"d":-23.6,"e":-23.3,"f":-23.05,"g":-22.65,"h":-21.25,"i":-21.68,"j":-21.8,"q1":0.2,"q2":0.13,"q3":0.08,"q4":0.04,"q5":-0.08,"q6":-0.04,"q7":0.02,"q8":-0.02},
  {"t":2003.818,"k":-23.19,"a":-23.3,"b":-23.25,"c":-23.32,"d":-22.9,"e":-22.76,"f":-22.65,"g":-22.49,"h":-21.81,"i":-22.08,"j":-21.94,"q1":2.4,"q2":1.5,"q3":0.9,"q4":0.48,"q5":-0.9,"q6":-0.48,"q7":0.21,"q8":-0.18},
  {"t":2004.314,"k":-21.65,"a":-21.58,"b":-21.62,"c":-21.65,"d":-21.75,"e":-21.88,"f":-21.99,"g":-22.22,"h":-22.57,"i":-22.62,"j":-22.26,"q1":4,"q2":2.5,"q3":1.5,"q4":0.8,"q5":-1.5,"q6":-0.8,"q7":0.35,"q8":-0.3},
  {"t":2004.81,"k":-20.63,"a":-20.45,"b":-20.55,"c":-20.55,"d":-21,"e":-21.3,"f":-21.55,"g":-22.05,"h":-23.27,"i":-23.12,"j":-22.7,"q1":1.2,"q2":0.75,"q3":0.45,"q4":0.24,"q5":-0.45,"q6":-0.24,"q7":0.11,"q8":-0.09},
  {"t":2005.306,"k":-20.95,"a":-20.8,"b":-20.88,"c":-20.89,"d":-21.23,"e":-21.48,"f":-21.69,"g":-22.1,"h":-23.8,"i":-23.5,"j":-23.1,"q1":-0.8,"q2":-0.5,"q3":-0.3,"q4":-0.16,"q5":0.3,"q6":0.16,"q7":-0.07,"q8":0.06},
  {"t":2005.803,"k":-21.65,"a":-21.58,"b":-21.62,"c":-21.65,"d":-21.75,"e":-21.88,"f":-21.99,"g":-22.22,"h":-23.04,"i":-22.96,"j":-23.4,"q1":-1.8,"q2":-1.13,"q3":-0.68,"q4":-0.36,"q5":0.68,"q6":0.36,"q7":-0.16,"q8":0.14},
  {"t":2006.299,"k":-22.59,"a":-22.63,"b":-22.62,"c":-22.68,"d":-22.46,"e":-22.42,"f":-22.39,"g":-22.39,"h":-21.81,"i":-22.08,"j":-22.97,"q1":-1.6,"q2":-1,"q3":-0.6,"q4":-0.32,"q5":0.6,"q6":0.32,"q7":-0.14,"q8":0.12},
  {"t":2006.795,"k":-23.47,"a":-23.61,"b":-23.55,"c":-23.63,"d":-23.11,"e":-22.92,"f":-22.77,"g":-22.54,"h":-21,"i":-21.5,"j":-22.26,"q1":-0.6,"q2":-0.38,"q3":-0.23,"q4":-0.12,"q5":0.23,"q6":0.12,"q7":-0.05,"q8":0.05},
  {"t":2007.291,"k":-24.13,"a":-24.35,"b":-24.25,"c":-24.35,"d":-23.6,"e":-23.3,"f":-23.05,"g":-22.65,"h":-21.25,"i":-21.68,"j":-21.8,"q1":0.2,"q2":0.13,"q3":0.08,"q4":0.04,"q5":-0.08,"q6":-0.04,"q7":0.02,"q8":-0.02},
  {"t":2007.788,"k":-23.19,"a":-23.3,"b":-23.25,"c":-23.32,"d":-22.9,"e":-22.76,"f":-22.65,"g":-22.49,"h":-21.81,"i":-22.08,"j":-21.94,"q1":2.4,"q2":1.5,"q3":0.9,"q4":0.48,"q5":-0.9,"q6":-0.48,"q7":0.21,"q8":-0.18},
  {"t":2008.284,"k":-21.65,"a":-21.58,"b":-21.62,"c":-21.65,"d":-21.75,"e":-21.88,"f":-21.99,"g":-22.22,"h":-22.57,"i":-22.62,"j":-22.26,"q1":4,"q2":2.5,"q3":1.5,"q4":0.8,"q5":-1.5,"q6":-0.8,"q7":0.35,"q8":-0.3},
  {"t":2008.78,"k":-20.63,"a":-20.45,"b":-20.55,"c":-20.55,"d":-21,"e":-21.3,"f":-21.55,"g":-22.05,"h":-23.27,"i":-23.12,"j":-22.7,"q1":1.2,"q2":0.75,"q3":0.45,"q4":0.24,"q5":-0.45,"q6":-0.24,"q7":0.11,"q8":-0.09},
  {"t":2009.276,"k":-20.95,"a":-20.8,"b":-20.88,"c":-20.89,"d":-21.23,"e":-21.48,"f":-21.69,"g":-22.1,"h":-23.8,"i":-23.5,"j":-23.1,"q1":-0.8,"q2":-0.5,"q3":-0.3,"q4":-0.16,"q5":0.3,"q6":0.16,"q7":-0.07,"q8":0.06},
  {"t":2009.773,"k":-21.65,"a":-21.58,"b":-21.62,"c":-21.65,"d":-21.75,"e":-21.88,"f":-21.99,"g":-22.22,"h":-23.04,"i":-22.96,"j":-23.4,"q1":-1.8,"q2":-1.13,"q3":-0.68,"q4":-0.36,"q5":0.68,"q6":0.36,"q7":-0.16,"q8":0.14},
  {"t":2010.269,"k":-22.59,"a":-22.63,"b":-22.62,"c":-22.68,"d":-22.46,"e":-22.42,"f":-22.39,"g":-22.39,"h":-21.81,"i":-22.08,"j":-22.97,"q1":-1.6,"q2":-1,"q3":-0.6,"q4":-0.32,"q5":0.6,"q6":0.32,"q7":-0.14,"q8":0.12},
  {"t":2010.765,"k":-23.47,"a":-23.61,"b":-23.55,"c":-23.63,"d":-23.11,"e":-22.92,"f":-22.77,"g":-22.54,"h":-21,"i":-21.5,"j":-22.26,"q1":-0.6,"q2":-0.38,"q3":-0.23,"q4":-0.12,"q5":0.23,"q6":0.12,"q7":-0.05,"q8":0.05},
  {"t":2011.261,"k":-24.13,"a":-24.35,"b":-24.25,"c":-24.35,"d":-23.6,"e":-23.3,"f":-23.05,"g":-22.65,"h":-21.25,"i":-21.68,"j":-21.8,"q1":0.2,"q2":0.13,"q3":0.08,"q4":0.04,"q5":-0.08,"q6":-0.04,"q7":0.02,"q8":-0.02},
  {"t":2011.758,"k":-23.19,"a":-23.3,"b":-23.25,"c":-23.32,"d":-22.9,"e":-22.76,"f":-22.65,"g":-22.49,"h":-21.81,"i":-22.08,"j":-21.94,"q1":2.4,"q2":1.5,"q3":0.9,"q4":0.48,"q5":-0.9,"q6":-0.48,"q7":0.21,"q8":-0.18},
  {"t":2012.254,"k":-21.65,"a":-21.58,"b":-21.62,"c":-21.65,"d":-21.75,"e":-21.88,"f":-21.99,"g":-22.22,"h":-22.57,"i":-22.62,"j":-22.26,"q1":4,"q2":2.5,"q3":1.5,"q4":0.8,"q5":-1.5,"q6":-0.8,"q7":0.35,"q8":-0.3},
  {"t":2012.75,"k":-20.63,"a":-20.45,"b":-20.55,"c":-20.55,"d":-21,"e":-21.3,"f":-21.55,"g":-22.05,"h":-23.27,"i":-23.12,"j":-22.7,"q1":1.2,"q2":0.75,"q3":0.45,"q4":0.24,"q5":-0.45,"q6":-0.24,"q7":0.11,"q8":-0.09},
  {"t":2013.246,"k":-20.95,"a":-20.8,"b":-20.88,"c":-20.89,"d":-21.23,"e":-21.48,"f":-21.69,"g":-22.1,"h":-23.8,"i":-23.5,"j":-23.1,"q1":-0.8,"q2":-0.5,"q3":-0.3,"q4":-0.16,"q5":0.3,"q6":0.16,"q7":-0.07,"q8":0.06},
  {"t":2013.743,"k":-21.65,"a":-21.58,"b":-21.62,"c":-21.65,"d":-21.75,"e":-21.88,"f":-21.99,"g":-22.22,"h":-23.04,"i":-22.96,"j":-23.4,"q1":-1.8,"q2":-1.13,"q3":-0.68,"q4":-0.36,"q5":0.68,"q6":0.36,"q7":-0.16,"q8":0.14},
  {"t":2014.239,"k":-22.59,"a":-22.63,"b":-22.62,"c":-22.68,"d":-22.46,"e":-22.42,"f":-22.39,"g":-22.39,"h":-21.81,"i":-22.08,"j":-22.97,"q1":-1.6,"q2":-1,"q3":-0.6,"q4":-0.32,"q5":0.6,"q6":0.32,"q7":-0.14,"q8":0.12},
  {"t":2014.735,"k":-23.47,"a":-23.61,"b":-23.55,"c":-23.63,"d":-23.11,"e":-22.92,"f":-22.77,"g":-22.54,"h":-21,"i":-21.5,"j":-22.26,"q1":-0.6,"q2":-0.38,"q3":-0.23,"q4":-0.12,"q5":0.23,"q6":0.12,"q7":-0.05,"q8":0.05},
  {"t":2015.231,"k":-24.13,"a":-24.35,"b":-24.25,"c":-24.35,"d":-23.6,"e":-23.3,"f":-23.05,"g":-22.65,"h":-21.25,"i":-21.68,"j":-21.8,"q1":0.2,"q2":0.13,"q3":0.08,"q4":0.04,"q5":-0.08,"q6":-0.04,"q7":0.02,"q8":-0.02},
  {"t":2015.728,"k":-23.19,"a":-23.3,"b":-23.25,"c":-23.32,"d":-22.9,"e":-22.76,"f":-22.65,"g":-22.49,"h":-21.81,"i":-22.08,"j":-21.94,"q1":2.4,"q2":1.5,"q3":0.9,"q4":0.48,"q5":-0.9,"q6":-0.48,"q7":0.21,"q8":-0.18},
  {"t":2016.224,"k":-21.65,"a":-21.58,"b":-21.62,"c":-21.65,"d":-21.75,"e":-21.88,"f":-21.99,"g":-22.22,"h":-22.57,"i":-22.62,"j":-22.26,"q1":4,"q2":2.5,"q3":1.5,"q4":0.8,"q5":-1.5,"q6":-0.8,"q7":0.35,"q8":-0.3},
  {"t":2016.72,"k":-20.63,"a":-20.45,"b":-20.55,"c":-20.55,"d":-21,"e":-21.3,"f":-21.55,"g":-22.05,"h":-23.27,"i":-23.12,"j":-22.7,"q1":1.2,"q2":0.75,"q3":0.45,"q4":0.24,"q5":-0.45,"q6":-0.24,"q7":0.11,"q8":-0.09},
  {"t":2017.216,"k":-20.95,"a":-20.8,"b":-20.88,"c":-20.89,"d":-21.23,"e":-21.48,"f":-21.69,"g":-22.1,"h":-23.8,"i":-23.5,"j":-23.1,"q1":-0.8,"q2":-0.5,"q3":-0.3,"q4":-0.16,"q5":0.3,"q6":0.16,"q7":-0.07,"q8":0.06},
  {"t":2017.713,"k":-21.65,"a":-21.58,"b":-21.62,"c":-21.65,"d":-21.75,"e":-21.88,"f":-21.99,"g":-22.22,"h":-23.04,"i":-22.96,"j":-23.4,"q1":-1.8,"q2":-1.13,"q3":-0.68,"q4":-0.36,"q5":0.68,"q6":0.36,"q7":-0.16,"q8":0.14},
  {"t":2018.209,"k":-22.59,"a":-22.63,"b":-22.62,"c":-22.68,"d":-22.46,"e":-22.42,"f":-22.39,"g":-22.39,"h":-21.81,"i":-22.08,"j":-22.97,"q1":-1.6,"q2":-1,"q3":-0.6,"q4":-0.32,"q5":0.6,"q6":0.32,"q7":-0.14,"q8":0.12},
  {"t":2018.705,"k":-23.47,"a":-23.61,"b":-23.55,"c":-23.63,"d":-23.11,"e":-22.92,"f":-22.77,"g":-22.54,"h":-21,"i":-21.5,"j":-22.26,"q1":-0.6,"q2":-0.38,"q3":-0.23,"q4":-0.12,"q5":0.23,"q6":0.12,"q7":-0.05,"q8":0.05},
  {"t":2019.201,"k":-24.13,"a":-24.35,"b":-24.25,"c":-24.35,"d":-23.6,"e":-23.3,"f":-23.05,"g":-22.65,"h":-21.25,"i":-21.68,"j":-21.8,"q1":0.2,"q2":0.13,"q3":0.08,"q4":0.04,"q5":-0.08,"q6":-0.04,"q7":0.02,"q8":-0.02}
 ]
},
"bounds": "flush",
"columns": 5,
"spacing": {"row": 8.7, "column": 0},
"resolve": {"scale": {"color": "independent", "shape": "independent"}},
"concat": [
 {"width": 291, "height": 258,
  "resolve": {"axis": {"x": "independent", "y": "independent"}},
  "layer": [
   {"data": {"name": "rv"}, "mark": {"type": "line", "color": "#2a9d8a", "strokeWidth": 4.5, "opacity": 0.55, "interpolate": "monotone", "clip": true},
    "encoding": {
     "x": {"field": "t", "type": "quantitative", "scale": {"domain": [1984.8, 2020], "nice": false, "zero": false},
           "axis": {"orient": "bottom", "values": [1986,1988,1990,1992,1994,1996,1998,2000,2002,2004,2006,2008,2010,2012,2014,2016,2018,2020], "labels": false, "title": null, "tickSize": {"condition": {"test": "datum.value % 10 === 0", "value": -5}, "value": -2.5}}},
     "y": {"field": "v", "type": "quantitative", "scale": {"domain": [-7620, 10710], "nice": false, "zero": false},
           "axis": {"orient": "left", "values": [-7500,-7000,-6500,-6000,-5500,-5000,-4500,-4000,-3500,-3000,-2500,-2000,-1500,-1000,-500,0,500,1000,1500,2000,2500,3000,3500,4000,4500,5000,5500,6000,6500,7000,7500,8000,8500,9000,9500,10000,10500], "format": "d", "labelExpr": "datum.value % 2500 === 0 ? datum.label : ''", "tickSize": {"condition": {"test": "datum.value % 2500 === 0", "value": -5}, "value": -2.5}, "labelPadding": 11, "title": "RV (m/s)", "titleX": -58, "titleBaseline": "middle"}}
    }},
   {"data": {"name": "rv"}, "mark": {"type": "line", "color": "black", "strokeWidth": 2, "interpolate": "monotone", "clip": true},
    "encoding": {"x": {"field": "t", "type": "quantitative", "axis": null}, "y": {"field": "v", "type": "quantitative", "axis": null}}},
   {"data": {"name": "pts1"}, "mark": {"type": "errorbar", "ticks": true, "color": "#333", "thickness": 1.2},
    "encoding": {"x": {"field": "t", "type": "quantitative", "axis": null}, "y": {"field": "v", "type": "quantitative", "axis": null}, "yError": {"field": "e"}}},
   {"data": {"name": "pts1"}, "mark": {"type": "point", "filled": true, "size": 48, "stroke": "#333", "strokeWidth": 0.8, "opacity": 1},
    "encoding": {
     "x": {"field": "t", "type": "quantitative", "axis": null},
     "y": {"field": "v", "type": "quantitative", "axis": null},
     "color": {"field": "inst", "type": "nominal", "scale": {"domain": ["CORAVEL", "HERMES"], "range": ["#ff7f0e", "#2ca02c"]},
               "legend": {"title": null, "orient": "none", "legendX": 112, "legendY": 219, "fillColor": "white", "strokeColor": "#ccc", "padding": 5, "cornerRadius": 3, "labelFontSize": 8.6, "symbolSize": 48, "rowPadding": 2, "labelOffset": 12, "symbolStrokeWidth": 0.8}},
     "shape": {"field": "inst", "type": "nominal", "scale": {"domain": ["CORAVEL", "HERMES"], "range": ["circle", "triangle-up"]},
               "legend": {"title": null, "orient": "none", "legendX": 112, "legendY": 219, "fillColor": "white", "strokeColor": "#ccc", "padding": 5, "cornerRadius": 3, "labelFontSize": 8.6, "symbolSize": 48, "rowPadding": 2, "labelOffset": 12, "symbolStrokeWidth": 0.8}}
    }},
   {"data": {"values": [{}]}, "mark": {"type": "point", "opacity": 0},
    "encoding": {
     "x": {"datum": 2000, "type": "quantitative", "axis": {"orient": "top", "values": [1986,1988,1990,1992,1994,1996,1998,2000,2002,2004,2006,2008,2010,2012,2014,2016,2018,2020], "labels": false, "title": null, "tickSize": {"condition": {"test": "datum.value % 10 === 0", "value": -5}, "value": -2.5}}},
     "y": {"datum": 0, "type": "quantitative", "axis": {"orient": "right", "values": [-7500,-7000,-6500,-6000,-5500,-5000,-4500,-4000,-3500,-3000,-2500,-2000,-1500,-1000,-500,0,500,1000,1500,2000,2500,3000,3500,4000,4500,5000,5500,6000,6500,7000,7500,8000,8500,9000,9500,10000,10500], "labels": false, "title": null, "tickSize": {"condition": {"test": "datum.value % 2500 === 0", "value": -5}, "value": -2.5}}}
    }}
  ]},
 {"width": 70.7, "height": 1, "data": {"values": [{}]}, "mark": {"type": "point", "opacity": 0}, "encoding": {}, "view": {"stroke": null}},
 {"width": 297, "height": 257,
  "resolve": {"axis": {"x": "independent", "y": "independent"}},
  "layer": [
   {"data": {"name": "p2"}, "transform": [{"fold": ["c", "d", "e", "f", "g", "h", "i", "j"], "as": ["key", "val"]}],
    "mark": {"type": "line", "strokeWidth": 1.6, "opacity": 0.4, "interpolate": "monotone", "clip": true},
    "encoding": {
     "x": {"field": "t", "type": "quantitative", "scale": {"domain": [1988.3, 2019.07], "nice": false, "zero": false},
           "axis": {"orient": "bottom", "values": [1989,1990,1991,1992,1993,1994,1995,1996,1997,1998,1999,2000,2001,2002,2003,2004,2005,2006,2007,2008,2009,2010,2011,2012,2013,2014,2015,2016,2017,2018,2019], "labels": false, "title": null, "tickSize": {"condition": {"test": "datum.value % 5 === 0", "value": -5}, "value": -2.5}}},
     "y": {"field": "val", "type": "quantitative", "scale": {"domain": [-4.42, -0.13], "nice": false, "zero": false},
           "axis": {"orient": "left", "values": [-4.4,-4.3,-4.2,-4.1,-4,-3.9,-3.8,-3.7,-3.6,-3.5,-3.4,-3.3,-3.2,-3.1,-3,-2.9,-2.8,-2.7,-2.6,-2.5,-2.4,-2.3,-2.2,-2.1,-2,-1.9,-1.8,-1.7,-1.6,-1.5,-1.4,-1.3,-1.2,-1.1,-1,-0.9,-0.8,-0.7,-0.6,-0.5,-0.4,-0.3,-0.2], "format": ".1f", "labelExpr": "abs(datum.value * 2 - round(datum.value * 2)) < 0.01 ? datum.label : ''", "tickSize": {"condition": {"test": "abs(datum.value * 2 - round(datum.value * 2)) < 0.01", "value": -5}, "value": -2.5}, "labelPadding": 11, "title": "μα* (mas/yr)", "titleX": -45, "titleBaseline": "middle"}},
     "color": {"field": "key", "type": "nominal", "scale": {"domain": ["a", "b", "c", "d", "e", "f", "g", "h", "i", "j"], "range": ["#21918c", "#1f9a8a", "#414487", "#5ec962", "#dde318", "#86d549", "#482878", "#3b528b", "#29af7f", "#46327e"]}, "legend": null}
    }},
   {"data": {"name": "p2"}, "transform": [{"fold": ["a", "b"], "as": ["key", "val"]}],
    "mark": {"type": "line", "strokeWidth": 2.6, "opacity": 0.75, "interpolate": "monotone", "clip": true},
    "encoding": {
     "x": {"field": "t", "type": "quantitative", "axis": null},
     "y": {"field": "val", "type": "quantitative", "axis": null},
     "color": {"field": "key", "type": "nominal", "scale": {"domain": ["a", "b", "c", "d", "e", "f", "g", "h", "i", "j"], "range": ["#21918c", "#1f9a8a", "#414487", "#5ec962", "#dde318", "#86d549", "#482878", "#3b528b", "#29af7f", "#46327e"]}, "legend": null}
    }},
   {"data": {"name": "p2"}, "mark": {"type": "line", "color": "black", "strokeWidth": 2.2, "interpolate": "monotone", "clip": true},
    "encoding": {"x": {"field": "t", "type": "quantitative", "axis": null}, "y": {"field": "k", "type": "quantitative", "axis": null}}},
   {"data": {"name": "pts2"}, "mark": {"type": "errorbar", "ticks": true, "color": "black", "thickness": 1.5},
    "encoding": {"x": {"field": "t", "type": "quantitative", "axis": null}, "y": {"field": "v", "type": "quantitative", "axis": null}, "yError": {"field": "e"}}},
   {"data": {"name": "pts2"}, "mark": {"type": "point", "filled": true, "color": "black", "size": 115, "opacity": 1},
    "encoding": {
     "x": {"field": "t", "type": "quantitative", "axis": null},
     "y": {"field": "v", "type": "quantitative", "axis": null},
     "shape": {"field": "src", "type": "nominal", "scale": {"domain": ["HIPPARCOS", "GAIA"], "range": ["square", "circle"]},
               "legend": {"title": null, "orient": "none", "legendX": 212, "legendY": 3, "fillColor": "white", "strokeColor": "#ccc", "padding": 3, "cornerRadius": 3, "labelFontSize": 10, "symbolSize": 85, "symbolFillColor": "black", "symbolStrokeColor": "black", "rowPadding": -8, "labelOffset": 8}}
    }},
   {"data": {"values": [{}]}, "mark": {"type": "point", "opacity": 0},
    "encoding": {
     "x": {"datum": 2000, "type": "quantitative", "axis": {"orient": "top", "values": [1989,1990,1991,1992,1993,1994,1995,1996,1997,1998,1999,2000,2001,2002,2003,2004,2005,2006,2007,2008,2009,2010,2011,2012,2013,2014,2015,2016,2017,2018,2019], "labels": false, "title": null, "tickSize": {"condition": {"test": "datum.value % 5 === 0", "value": -5}, "value": -2.5}}},
     "y": {"datum": -2, "type": "quantitative", "axis": {"orient": "right", "values": [-4.4,-4.3,-4.2,-4.1,-4,-3.9,-3.8,-3.7,-3.6,-3.5,-3.4,-3.3,-3.2,-3.1,-3,-2.9,-2.8,-2.7,-2.6,-2.5,-2.4,-2.3,-2.2,-2.1,-2,-1.9,-1.8,-1.7,-1.6,-1.5,-1.4,-1.3,-1.2,-1.1,-1,-0.9,-0.8,-0.7,-0.6,-0.5,-0.4,-0.3,-0.2], "labels": false, "title": null, "tickSize": {"condition": {"test": "abs(datum.value * 2 - round(datum.value * 2)) < 0.01", "value": -5}, "value": -2.5}}}
    }}
  ]},
 {"width": 77.3, "height": 1, "data": {"values": [{}]}, "mark": {"type": "point", "opacity": 0}, "encoding": {}, "view": {"stroke": null}},
 {"width": 298, "height": 257,
  "resolve": {"axis": {"x": "independent", "y": "independent"}, "scale": {"color": "independent"}},
  "layer": [
   {"data": {"name": "p3"}, "transform": [{"fold": ["c", "d", "e", "f", "g", "h", "i", "j"], "as": ["key", "val"]}],
    "mark": {"type": "line", "strokeWidth": 1.6, "opacity": 0.35, "interpolate": "monotone", "clip": true},
    "encoding": {
     "x": {"field": "t", "type": "quantitative", "scale": {"domain": [1988.3, 2019.07], "nice": false, "zero": false},
           "axis": {"orient": "bottom", "values": [1989,1990,1991,1992,1993,1994,1995,1996,1997,1998,1999,2000,2001,2002,2003,2004,2005,2006,2007,2008,2009,2010,2011,2012,2013,2014,2015,2016,2017,2018,2019], "labels": false, "title": null, "tickSize": {"condition": {"test": "datum.value % 5 === 0", "value": -5}, "value": -2.5}}},
     "y": {"field": "val", "type": "quantitative", "scale": {"domain": [-25.34, -20.2], "nice": false, "zero": false},
           "axis": {"orient": "left", "values": [-25.2,-25,-24.8,-24.6,-24.4,-24.2,-24,-23.8,-23.6,-23.4,-23.2,-23,-22.8,-22.6,-22.4,-22.2,-22,-21.8,-21.6,-21.4,-21.2,-21,-20.8,-20.6,-20.4], "format": ".1f", "labelExpr": "abs(datum.value - round(datum.value)) < 0.01 ? format(datum.value, '.0f') : ''", "tickSize": {"condition": {"test": "abs(datum.value - round(datum.value)) < 0.01", "value": -5}, "value": -2.5}, "labelPadding": 11, "title": "μδ (mas/yr)", "titleX": -36, "titleBaseline": "middle"}},
     "color": {"field": "key", "type": "nominal", "scale": {"domain": ["a", "b", "c", "d", "e", "f", "g", "h", "i", "j"], "range": ["#22a884", "#44bf70", "#414487", "#7ad151", "#5ec962", "#bddf26", "#482878", "#21918c", "#21918c", "#2a9d8f"]}, "legend": null}
    }},
   {"data": {"name": "p3"}, "transform": [{"fold": ["a", "b"], "as": ["key", "val"]}],
    "mark": {"type": "line", "strokeWidth": 2.8, "opacity": 0.6, "interpolate": "monotone", "clip": true},
    "encoding": {
     "x": {"field": "t", "type": "quantitative", "axis": null},
     "y": {"field": "val", "type": "quantitative", "axis": null},
     "color": {"field": "key", "type": "nominal", "scale": {"domain": ["a", "b", "c", "d", "e", "f", "g", "h", "i", "j"], "range": ["#22a884", "#44bf70", "#414487", "#7ad151", "#5ec962", "#bddf26", "#482878", "#21918c", "#21918c", "#2a9d8f"]}, "legend": null}
    }},
   {"data": {"name": "p3"}, "mark": {"type": "line", "color": "black", "strokeWidth": 2.2, "interpolate": "monotone", "clip": true},
    "encoding": {"x": {"field": "t", "type": "quantitative", "axis": null}, "y": {"field": "k", "type": "quantitative", "axis": null}}},
   {"data": {"name": "pts3"}, "mark": {"type": "errorbar", "ticks": true, "color": "black", "thickness": 1.5},
    "encoding": {"x": {"field": "t", "type": "quantitative", "axis": null}, "y": {"field": "v", "type": "quantitative", "axis": null}, "yError": {"field": "e"}}},
   {"data": {"name": "pts3"}, "mark": {"type": "point", "filled": true, "color": "black", "size": 115, "opacity": 1},
    "encoding": {
     "x": {"field": "t", "type": "quantitative", "axis": null},
     "y": {"field": "v", "type": "quantitative", "axis": null},
     "shape": {"field": "src", "type": "nominal", "scale": {"domain": ["HIPPARCOS", "GAIA"], "range": ["square", "circle"]},
               "legend": {"title": null, "orient": "none", "legendX": 214, "legendY": 4, "fillColor": "white", "strokeColor": "#ccc", "padding": 3, "cornerRadius": 3, "labelFontSize": 10, "symbolSize": 85, "symbolFillColor": "black", "symbolStrokeColor": "black", "rowPadding": -8, "labelOffset": 8}}
    }},
   {"data": {"values": [{}]}, "mark": {"type": "point", "opacity": 0},
    "encoding": {
     "x": {"datum": 2000, "type": "quantitative", "axis": {"orient": "top", "values": [1989,1990,1991,1992,1993,1994,1995,1996,1997,1998,1999,2000,2001,2002,2003,2004,2005,2006,2007,2008,2009,2010,2011,2012,2013,2014,2015,2016,2017,2018,2019], "labels": false, "title": null, "tickSize": {"condition": {"test": "datum.value % 5 === 0", "value": -5}, "value": -2.5}}},
     "y": {"datum": -22, "type": "quantitative", "axis": {"orient": "right", "values": [-25.2,-25,-24.8,-24.6,-24.4,-24.2,-24,-23.8,-23.6,-23.4,-23.2,-23,-22.8,-22.6,-22.4,-22.2,-22,-21.8,-21.6,-21.4,-21.2,-21,-20.8,-20.6,-20.4], "labels": false, "tickSize": {"condition": {"test": "abs(datum.value - round(datum.value)) < 0.01", "value": -5}, "value": -2.5}, "title": "Mcomp(M⊙)", "titleAngle": 90, "titleBaseline": "middle", "titleX": 80, "titleY": 168, "titleFontSize": 14}},
     "color": {"datum": 0.5, "type": "quantitative", "scale": {"scheme": "viridis", "domain": [0.262, 0.657]},
               "legend": {"title": null, "orient": "none", "legendX": 311.7, "legendY": 13.7, "direction": "vertical", "gradientLength": 298, "gradientThickness": 15, "gradientStrokeColor": "#111", "gradientStrokeWidth": 0.8, "values": [0.3, 0.35, 0.4, 0.45, 0.5, 0.55, 0.6, 0.65], "format": ".2f", "labelFontSize": 13.5, "labelOffset": 5, "padding": 0, "labelOverlap": false}}
    }}
  ]},
 {"width": 291, "height": 66,
  "resolve": {"axis": {"x": "independent", "y": "independent"}, "scale": {"color": "independent", "shape": "independent"}},
  "layer": [
   {"data": {"name": "oc1"}, "transform": [{"fold": ["a", "b", "c", "d"], "as": ["key", "val"]}],
    "mark": {"type": "line", "strokeWidth": 1.8, "opacity": 0.65, "interpolate": "monotone", "clip": true},
    "encoding": {
     "x": {"field": "t", "type": "quantitative", "scale": {"domain": [1984.8, 2020], "nice": false, "zero": false},
           "axis": {"orient": "bottom", "values": [1986,1988,1990,1992,1994,1996,1998,2000,2002,2004,2006,2008,2010,2012,2014,2016,2018,2020], "format": "d", "labelExpr": "datum.value % 10 === 0 ? datum.label : ''", "tickSize": {"condition": {"test": "datum.value % 10 === 0", "value": -5}, "value": -2.5}, "labelPadding": 8, "title": "Epoch (yr)", "titleY": 27, "titleBaseline": "middle"}},
     "y": {"field": "val", "type": "quantitative", "scale": {"domain": [-1753, 1789], "nice": false, "zero": false},
           "axis": {"orient": "left", "values": [-1600,-1400,-1200,-1000,-800,-600,-400,-200,0,200,400,600,800,1000,1200,1400,1600], "format": "d", "labelExpr": "datum.value % 1000 === 0 ? datum.label : ''", "tickSize": {"condition": {"test": "datum.value % 1000 === 0", "value": -5}, "value": -2.5}, "labelPadding": 11, "title": "O-C", "titleX": -58, "titleBaseline": "middle"}},
     "color": {"field": "key", "type": "nominal", "scale": {"domain": ["a", "b", "c", "d"], "range": ["#46327e", "#21918c", "#5ec962", "#7ad151"]}, "legend": null}
    }},
   {"data": {"name": "zero"}, "mark": {"type": "rule", "color": "black", "strokeWidth": 1.6, "strokeDash": [6, 4]},
    "encoding": {"y": {"field": "z", "type": "quantitative", "axis": null}}},
   {"data": {"name": "pts1"}, "mark": {"type": "errorbar", "ticks": true, "color": "#222", "thickness": 1.2},
    "encoding": {"x": {"field": "t", "type": "quantitative", "axis": null}, "y": {"field": "r", "type": "quantitative", "axis": null}, "yError": {"field": "e"}}},
   {"data": {"name": "pts1"}, "mark": {"type": "point", "filled": true, "size": 48, "stroke": "#333", "strokeWidth": 0.8, "opacity": 1},
    "encoding": {
     "x": {"field": "t", "type": "quantitative", "axis": null},
     "y": {"field": "r", "type": "quantitative", "axis": null},
     "color": {"field": "inst", "type": "nominal", "scale": {"domain": ["CORAVEL", "HERMES"], "range": ["#ff7f0e", "#2ca02c"]}, "legend": null},
     "shape": {"field": "inst", "type": "nominal", "scale": {"domain": ["CORAVEL", "HERMES"], "range": ["circle", "triangle-up"]}, "legend": null}
    }},
   {"data": {"values": [{}]}, "mark": {"type": "point", "opacity": 0},
    "encoding": {
     "x": {"datum": 2000, "type": "quantitative", "axis": {"orient": "top", "values": [1986,1988,1990,1992,1994,1996,1998,2000,2002,2004,2006,2008,2010,2012,2014,2016,2018,2020], "labels": false, "title": null, "tickSize": {"condition": {"test": "datum.value % 10 === 0", "value": -5}, "value": -2.5}}},
     "y": {"datum": 0, "type": "quantitative", "axis": {"orient": "right", "values": [-1600,-1400,-1200,-1000,-800,-600,-400,-200,0,200,400,600,800,1000,1200,1400,1600], "labels": false, "title": null, "tickSize": {"condition": {"test": "datum.value % 1000 === 0", "value": -5}, "value": -2.5}}}
    }}
  ]},
 {"width": 1, "height": 1, "data": {"values": [{}]}, "mark": {"type": "point", "opacity": 0}, "encoding": {}, "view": {"stroke": null}},
 {"width": 297, "height": 65,
  "resolve": {"axis": {"x": "independent", "y": "independent"}},
  "layer": [
   {"data": {"name": "p2"}, "transform": [{"fold": ["q1", "q2", "q3", "q4", "q5", "q6", "q7", "q8"], "as": ["key", "val"]}],
    "mark": {"type": "line", "strokeWidth": 1.6, "opacity": 0.5, "interpolate": "monotone", "clip": true},
    "encoding": {
     "x": {"field": "t", "type": "quantitative", "scale": {"domain": [1988.3, 2019.07], "nice": false, "zero": false},
           "axis": {"orient": "bottom", "values": [1989,1990,1991,1992,1993,1994,1995,1996,1997,1998,1999,2000,2001,2002,2003,2004,2005,2006,2007,2008,2009,2010,2011,2012,2013,2014,2015,2016,2017,2018,2019], "format": "d", "labelExpr": "datum.value % 5 === 0 ? datum.label : ''", "tickSize": {"condition": {"test": "datum.value % 5 === 0", "value": -5}, "value": -2.5}, "labelPadding": 8, "title": "Epoch (year)", "titleY": 28, "titleBaseline": "middle"}},
     "y": {"field": "val", "type": "quantitative", "scale": {"domain": [-1.81, 1.87], "nice": false, "zero": false},
           "axis": {"orient": "left", "values": [-1.8,-1.6,-1.4,-1.2,-1,-0.8,-0.6,-0.4,-0.2,0,0.2,0.4,0.6,0.8,1,1.2,1.4,1.6,1.8], "format": ".1f", "labelExpr": "abs(datum.value - round(datum.value)) < 0.01 ? format(datum.value, '.0f') : ''", "tickSize": {"condition": {"test": "abs(datum.value - round(datum.value)) < 0.01", "value": -5}, "value": -2.5}, "labelPadding": 11, "title": "O-C", "titleX": -54, "titleBaseline": "middle"}},
     "color": {"field": "key", "type": "nominal", "scale": {"domain": ["q1", "q2", "q3", "q4", "q5", "q6", "q7", "q8"], "range": ["#21918c", "#2c728e", "#46327e", "#3b528b", "#7ad151", "#5ec962", "#21918c", "#29af7f"]}, "legend": null}
    }},
   {"data": {"name": "zero"}, "mark": {"type": "rule", "color": "black", "strokeWidth": 1.6, "strokeDash": [6, 4]},
    "encoding": {"y": {"field": "z", "type": "quantitative", "axis": null}}},
   {"data": {"name": "pts2"}, "mark": {"type": "errorbar", "ticks": true, "color": "black", "thickness": 1.5},
    "encoding": {"x": {"field": "t", "type": "quantitative", "axis": null}, "y": {"field": "r", "type": "quantitative", "axis": null}, "yError": {"field": "re"}}},
   {"data": {"name": "pts2"}, "mark": {"type": "point", "filled": true, "color": "black", "size": 115, "opacity": 1},
    "encoding": {
     "x": {"field": "t", "type": "quantitative", "axis": null},
     "y": {"field": "r", "type": "quantitative", "axis": null},
     "shape": {"field": "src", "type": "nominal", "scale": {"domain": ["HIPPARCOS", "GAIA"], "range": ["square", "circle"]}, "legend": null}
    }},
   {"data": {"values": [{}]}, "mark": {"type": "point", "opacity": 0},
    "encoding": {
     "x": {"datum": 2000, "type": "quantitative", "axis": {"orient": "top", "values": [1989,1990,1991,1992,1993,1994,1995,1996,1997,1998,1999,2000,2001,2002,2003,2004,2005,2006,2007,2008,2009,2010,2011,2012,2013,2014,2015,2016,2017,2018,2019], "labels": false, "title": null, "tickSize": {"condition": {"test": "datum.value % 5 === 0", "value": -5}, "value": -2.5}}},
     "y": {"datum": 0, "type": "quantitative", "axis": {"orient": "right", "values": [-1.8,-1.6,-1.4,-1.2,-1,-0.8,-0.6,-0.4,-0.2,0,0.2,0.4,0.6,0.8,1,1.2,1.4,1.6,1.8], "labels": false, "title": null, "tickSize": {"condition": {"test": "abs(datum.value - round(datum.value)) < 0.01", "value": -5}, "value": -2.5}}}
    }}
  ]},
 {"width": 1, "height": 1, "data": {"values": [{}]}, "mark": {"type": "point", "opacity": 0}, "encoding": {}, "view": {"stroke": null}},
 {"width": 298, "height": 65,
  "resolve": {"axis": {"x": "independent", "y": "independent"}},
  "layer": [
   {"data": {"name": "p3"}, "transform": [{"fold": ["q1", "q2", "q3", "q4", "q5", "q6", "q7", "q8"], "as": ["key", "val"]}],
    "mark": {"type": "line", "strokeWidth": 1.6, "opacity": 0.5, "interpolate": "monotone", "clip": true},
    "encoding": {
     "x": {"field": "t", "type": "quantitative", "scale": {"domain": [1988.3, 2019.07], "nice": false, "zero": false},
           "axis": {"orient": "bottom", "values": [1989,1990,1991,1992,1993,1994,1995,1996,1997,1998,1999,2000,2001,2002,2003,2004,2005,2006,2007,2008,2009,2010,2011,2012,2013,2014,2015,2016,2017,2018,2019], "format": "d", "labelExpr": "datum.value % 5 === 0 ? datum.label : ''", "tickSize": {"condition": {"test": "datum.value % 5 === 0", "value": -5}, "value": -2.5}, "labelPadding": 8, "title": "Epoch (year)", "titleY": 28, "titleBaseline": "middle"}},
     "y": {"field": "val", "type": "quantitative", "scale": {"domain": [-1.38, 1.43], "nice": false, "zero": false},
           "axis": {"orient": "left", "values": [-1.2,-1,-0.8,-0.6,-0.4,-0.2,0,0.2,0.4,0.6,0.8,1,1.2,1.4], "format": ".1f", "labelExpr": "abs(datum.value - round(datum.value)) < 0.01 ? format(datum.value, '.0f') : ''", "tickSize": {"condition": {"test": "abs(datum.value - round(datum.value)) < 0.01", "value": -5}, "value": -2.5}, "labelPadding": 11, "title": "O-C", "titleX": -43, "titleBaseline": "middle"}},
     "color": {"field": "key", "type": "nominal", "scale": {"domain": ["q1", "q2", "q3", "q4", "q5", "q6", "q7", "q8"], "range": ["#21918c", "#2a788e", "#35b779", "#7ad151", "#21918c", "#3b528b", "#bddf26", "#46327e"]}, "legend": null}
    }},
   {"data": {"name": "zero"}, "mark": {"type": "rule", "color": "black", "strokeWidth": 1.6, "strokeDash": [6, 4]},
    "encoding": {"y": {"field": "z", "type": "quantitative", "axis": null}}},
   {"data": {"name": "pts3"}, "mark": {"type": "errorbar", "ticks": true, "color": "black", "thickness": 1.5},
    "encoding": {"x": {"field": "t", "type": "quantitative", "axis": null}, "y": {"field": "r", "type": "quantitative", "axis": null}, "yError": {"field": "re"}}},
   {"data": {"name": "pts3"}, "mark": {"type": "point", "filled": true, "color": "black", "size": 115, "opacity": 1},
    "encoding": {
     "x": {"field": "t", "type": "quantitative", "axis": null},
     "y": {"field": "r", "type": "quantitative", "axis": null},
     "shape": {"field": "src", "type": "nominal", "scale": {"domain": ["HIPPARCOS", "GAIA"], "range": ["square", "circle"]}, "legend": null}
    }},
   {"data": {"values": [{}]}, "mark": {"type": "point", "opacity": 0},
    "encoding": {
     "x": {"datum": 2000, "type": "quantitative", "axis": {"orient": "top", "values": [1989,1990,1991,1992,1993,1994,1995,1996,1997,1998,1999,2000,2001,2002,2003,2004,2005,2006,2007,2008,2009,2010,2011,2012,2013,2014,2015,2016,2017,2018,2019], "labels": false, "title": null, "tickSize": {"condition": {"test": "datum.value % 5 === 0", "value": -5}, "value": -2.5}}},
     "y": {"datum": 0, "type": "quantitative", "axis": {"orient": "right", "values": [-1.2,-1,-0.8,-0.6,-0.4,-0.2,0,0.2,0.4,0.6,0.8,1,1.2,1.4], "labels": false, "title": null, "tickSize": {"condition": {"test": "abs(datum.value - round(datum.value)) < 0.01", "value": -5}, "value": -2.5}}}
    }}
  ]}
]
}
